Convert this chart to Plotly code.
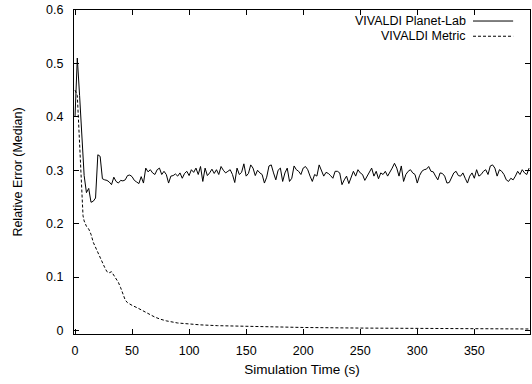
import plotly.graph_objects as go

# ---- data -------------------------------------------------------------
planet_t = list(range(0, 400, 2))
planet_err = [
    # t 0..64
    0.400, 0.510, 0.440, 0.370, 0.290, 0.258, 0.266, 0.240, 0.242, 0.248,
    0.329, 0.326, 0.284, 0.282, 0.281, 0.278, 0.273, 0.287, 0.279, 0.276,
    0.281, 0.280, 0.282, 0.290, 0.291, 0.288, 0.281, 0.278, 0.275, 0.288,
    0.276, 0.304, 0.297,
    # t 66..134
    0.301, 0.295, 0.292, 0.301, 0.304, 0.292, 0.298, 0.292, 0.276, 0.289,
    0.290, 0.293, 0.289, 0.295, 0.285, 0.294, 0.298, 0.290, 0.301, 0.296,
    0.304, 0.292, 0.307, 0.279, 0.304, 0.290, 0.295, 0.302, 0.294, 0.301,
    0.292, 0.307, 0.300, 0.295, 0.298,
    # t 136..202
    0.301, 0.292, 0.277, 0.304, 0.292, 0.296, 0.312, 0.289, 0.294, 0.310,
    0.304, 0.290, 0.300, 0.295, 0.292, 0.276, 0.287, 0.308, 0.310, 0.295,
    0.282, 0.300, 0.304, 0.279, 0.295, 0.304, 0.279, 0.285, 0.308, 0.301,
    0.298, 0.292, 0.304, 0.307,
    # t 204..270
    0.301, 0.289, 0.279, 0.292, 0.289, 0.310, 0.301, 0.289, 0.296, 0.294,
    0.290, 0.285, 0.298, 0.298, 0.295, 0.273, 0.282, 0.289, 0.275, 0.285,
    0.298, 0.289, 0.301, 0.295, 0.292, 0.281, 0.289, 0.295, 0.304, 0.289,
    0.298, 0.284, 0.295, 0.292,
    # t 272..340
    0.298, 0.289, 0.296, 0.304, 0.313, 0.304, 0.289, 0.308, 0.279, 0.292,
    0.298, 0.301, 0.295, 0.292, 0.276, 0.290, 0.298, 0.301, 0.302, 0.307,
    0.298, 0.297, 0.289, 0.282, 0.295, 0.294, 0.289, 0.276, 0.277, 0.285,
    0.295, 0.298, 0.290, 0.289, 0.295,
    # t 342..398
    0.285, 0.276, 0.289, 0.295, 0.285, 0.301, 0.289, 0.292, 0.298, 0.301,
    0.292, 0.308, 0.310, 0.304, 0.289, 0.301, 0.298, 0.292, 0.282, 0.279,
    0.285, 0.282, 0.289, 0.298, 0.292, 0.301, 0.295, 0.292, 0.304,
]

metric_t = [0, 2, 4, 6, 7, 8, 10, 12, 14, 16, 18, 20, 22, 24, 26, 28, 30, 32,
            34, 36, 38, 40, 42, 44, 46, 48, 50, 55, 60, 65, 70, 75, 80, 90,
            100, 110, 125, 150, 175, 200, 250, 300, 350, 398]
metric_err = [0.450, 0.440, 0.350, 0.260, 0.215, 0.205, 0.195, 0.190, 0.180,
              0.165, 0.155, 0.147, 0.137, 0.127, 0.118, 0.110, 0.108, 0.110,
              0.103, 0.095, 0.090, 0.080, 0.067, 0.057, 0.052, 0.049, 0.047,
              0.042, 0.036, 0.030, 0.025, 0.021, 0.018, 0.014, 0.012, 0.0105,
              0.009, 0.0075, 0.0065, 0.0056, 0.0045, 0.0038, 0.0032, 0.0028]

series_names = ["VIVALDI Planet-Lab", "VIVALDI Metric"]
x_ticks = [0, 50, 100, 150, 200, 250, 300, 350]
y_ticks = [0, 0.1, 0.2, 0.3, 0.4, 0.5, 0.6]

FONT = "Liberation Sans, Arial, Helvetica, sans-serif"

fig = go.Figure()
fig.add_trace(go.Scatter(x=planet_t, y=planet_err, mode="lines",
                         name=series_names[0],
                         line=dict(color="black", width=1)))
fig.add_trace(go.Scatter(x=metric_t, y=metric_err, mode="lines",
                         name=series_names[1],
                         line=dict(color="black", width=1, dash="3px,2px")))

# gnuplot-style key: text right-aligned, line sample to the right
key_rows = [(series_names[0], "solid", 0.966), (series_names[1], "3px,2px", 0.919)]
for name, dash, yp in key_rows:
    fig.add_annotation(x=0.862, y=yp, xref="paper", yref="paper",
                       text=name, showarrow=False, xanchor="right",
                       yanchor="middle", borderpad=0,
                       font=dict(size=12.5, color="black", family=FONT))
    fig.add_shape(type="line", xref="paper", yref="paper",
                  x0=0.875, x1=0.963, y0=yp, y1=yp,
                  line=dict(color="black", width=1, dash=dash))

axis_common = dict(showline=True, linecolor="black", linewidth=1, mirror="ticks",
                   ticks="inside", ticklen=5, tickcolor="black", showgrid=False,
                   zeroline=False, automargin=False,
                   tickfont=dict(size=12.5, color="black", family=FONT))

fig.update_layout(
    width=532, height=384,
    margin=dict(l=74, r=2, t=10, b=50),
    paper_bgcolor="white", plot_bgcolor="white",
    showlegend=False, hovermode=False,
    font=dict(family=FONT, size=12, color="black"),
    xaxis=dict(range=[-0.9, 398.8], tickvals=x_ticks, ticklabelstandoff=5,
               title=dict(text="Simulation Time (s)", font=dict(size=13.5), standoff=7),
               **axis_common),
    yaxis=dict(range=[-0.0066, 0.6], tickvals=y_ticks, ticklabelstandoff=7,
               title=dict(text="Relative Error (Median)", font=dict(size=12.5), standoff=20),
               **axis_common),
)

# remove the default page margin so the figure sits at the window's top-left
fig.write_html(
    "out.html",
    config={"displayModeBar": False, "staticPlot": True},
    post_script="document.body.style.margin='0';document.body.style.overflow='hidden';",
)
